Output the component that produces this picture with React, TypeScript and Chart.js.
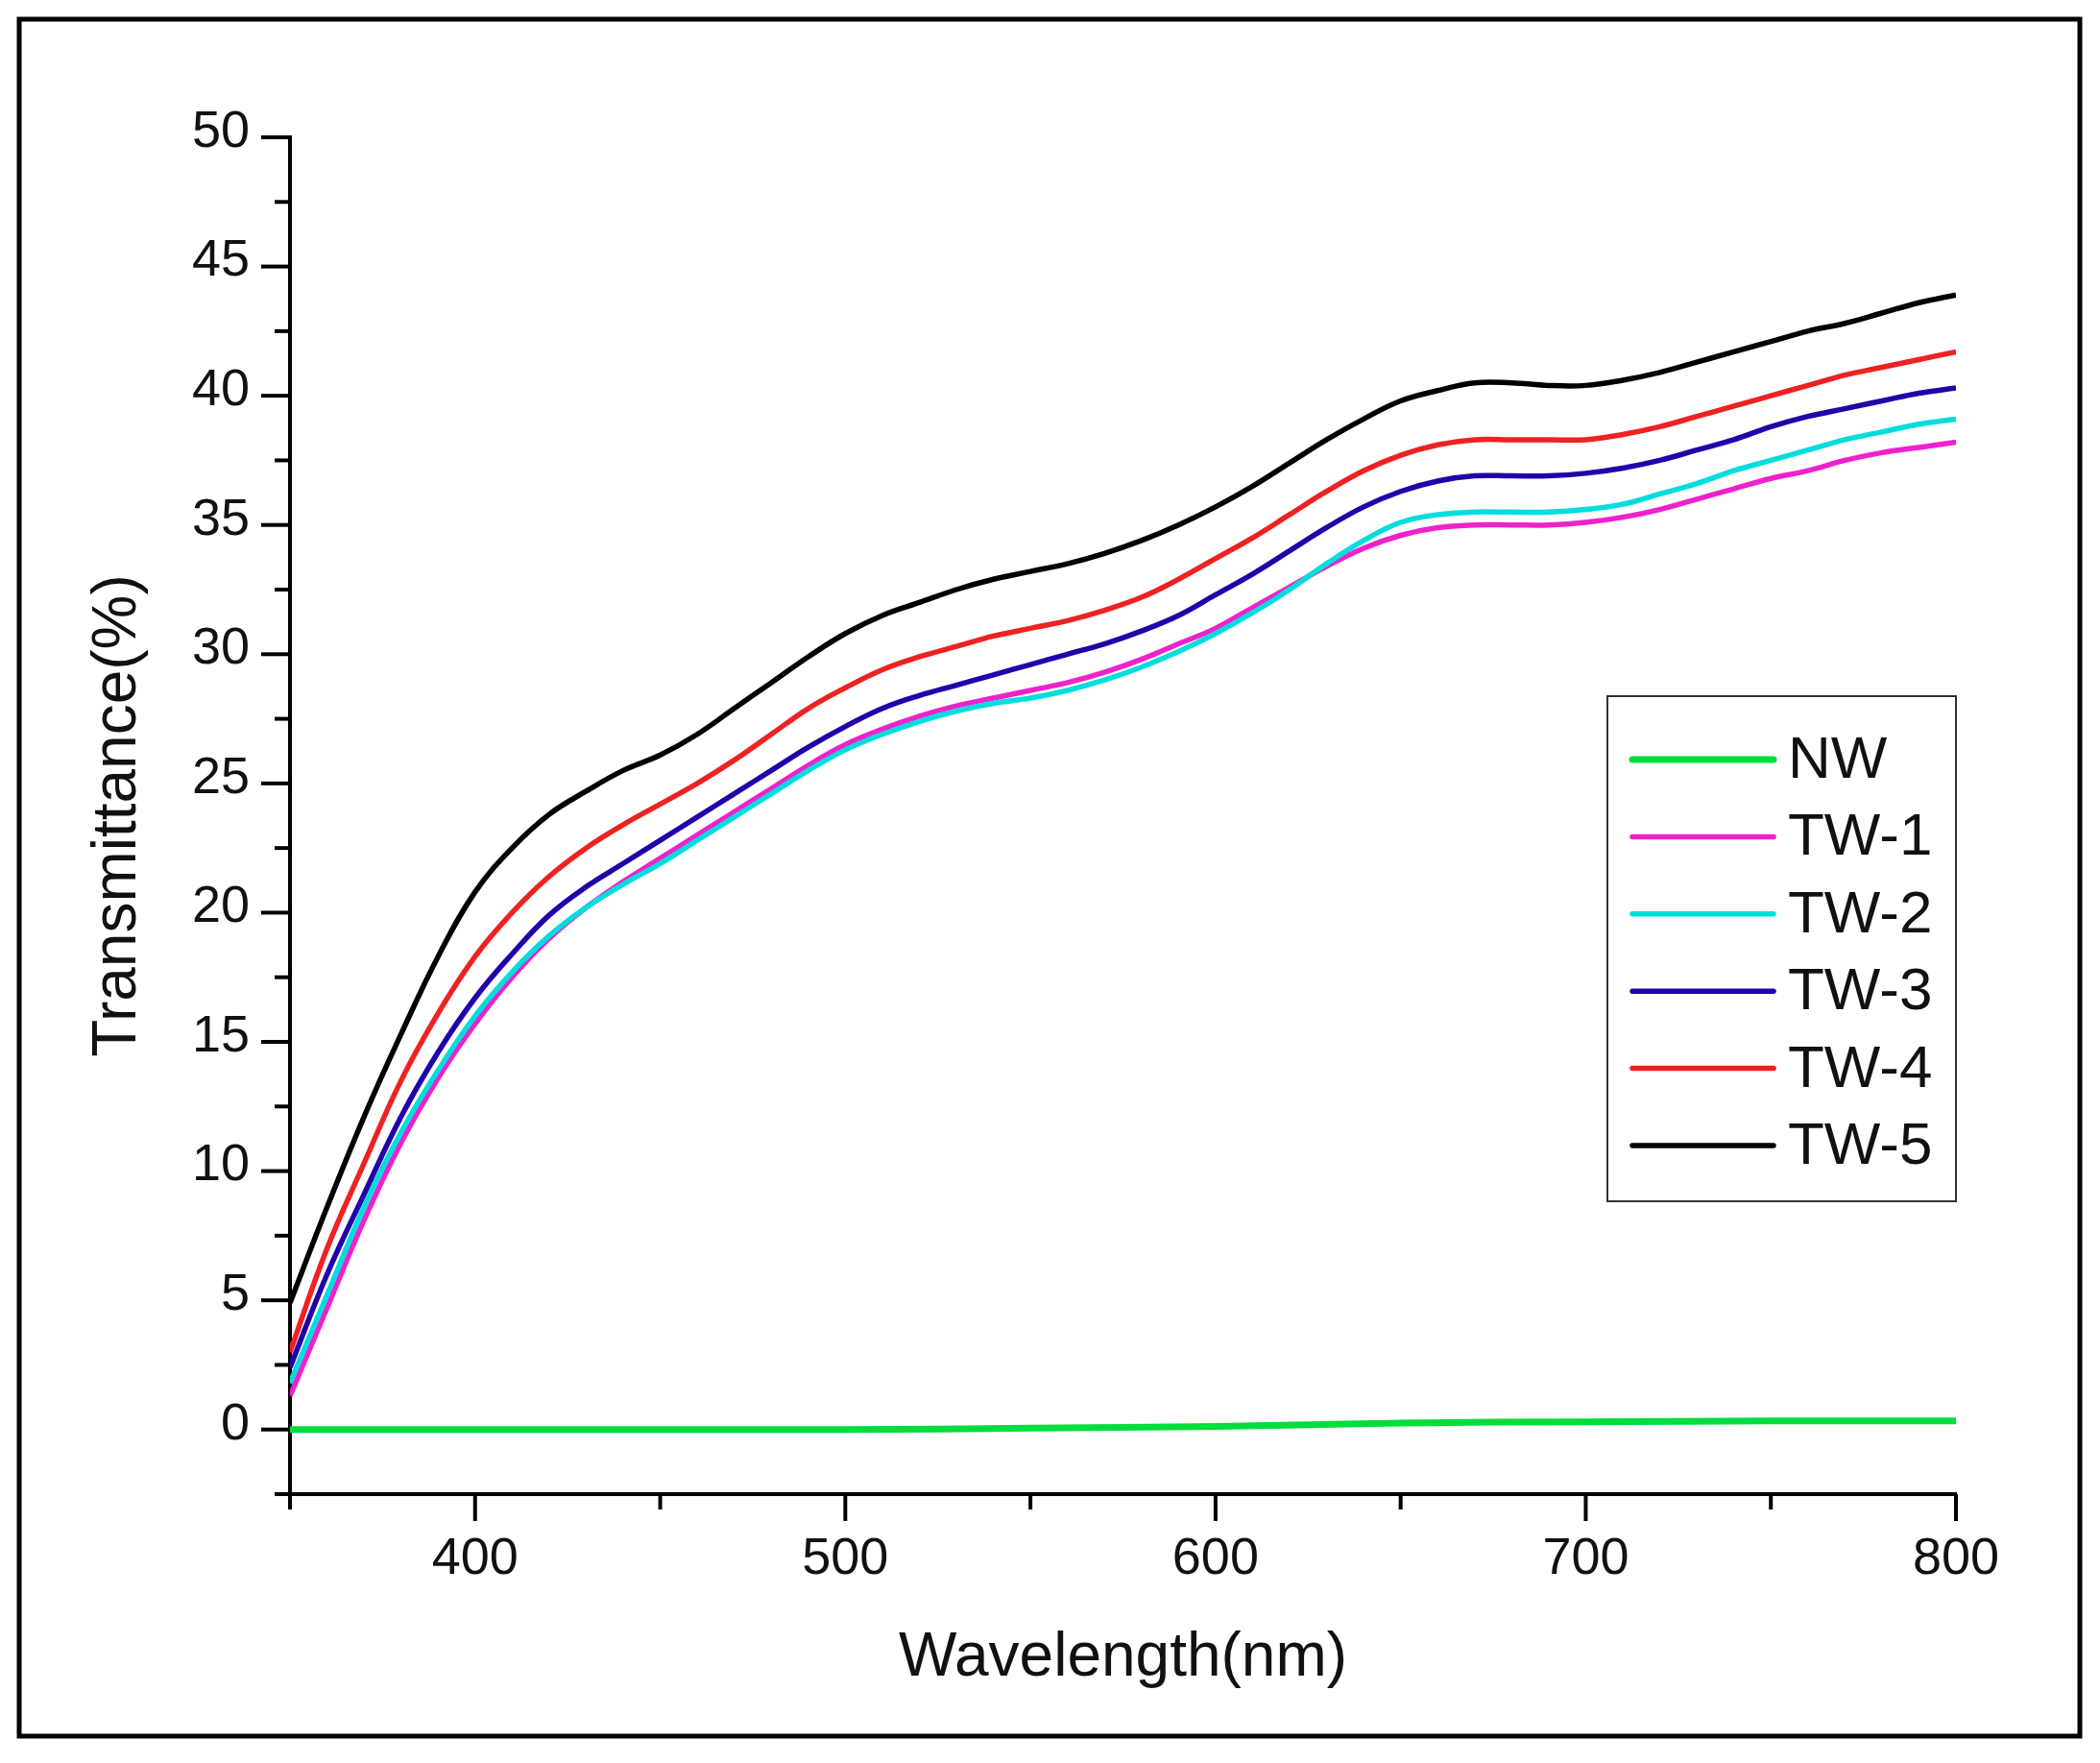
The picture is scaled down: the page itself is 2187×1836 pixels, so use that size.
import React, { useEffect, useRef } from 'react';
import { Chart, registerables } from 'chart.js';

Chart.register(...registerables);

// ---------- data ----------
const WAVELENGTHS = [
  350, 360, 370, 380, 390, 400, 410, 420, 430, 440, 450, 460, 470, 480, 490, 500,
  510, 520, 530, 540, 550, 560, 570, 580, 590, 600, 610, 620, 630, 640, 650, 660,
  670, 680, 690, 700, 710, 720, 730, 740, 750, 760, 770, 780, 790, 800,
];

const TW1 = [
  1.3, 4.7, 8.1, 11.1, 13.6, 15.7, 17.5, 19.0, 20.2, 21.2, 22.1, 23.0, 23.9, 24.8, 25.7, 26.5,
  27.1, 27.6, 28.0, 28.3, 28.6, 28.9, 29.3, 29.8, 30.4, 31.0, 31.8, 32.6, 33.4, 34.1, 34.6, 34.9,
  35.0, 35.0, 35.0, 35.1, 35.3, 35.6, 36.0, 36.4, 36.8, 37.1, 37.5, 37.8, 38.0, 38.2,
];
const TW2 = [
  1.8, 5.2, 8.6, 11.5, 13.9, 16.0, 17.7, 19.1, 20.2, 21.1, 21.9, 22.8, 23.7, 24.6, 25.5, 26.3,
  26.9, 27.4, 27.8, 28.1, 28.3, 28.6, 29.0, 29.5, 30.1, 30.8, 31.6, 32.5, 33.5, 34.4, 35.1, 35.4,
  35.5, 35.5, 35.5, 35.6, 35.8, 36.2, 36.6, 37.1, 37.5, 37.9, 38.3, 38.6, 38.9, 39.1,
];
const TW3 = [
  2.4, 6.0, 9.1, 12.1, 14.6, 16.7, 18.4, 19.9, 21.0, 21.9, 22.8, 23.7, 24.6, 25.5, 26.4, 27.2,
  27.9, 28.4, 28.8, 29.2, 29.6, 30.0, 30.4, 30.9, 31.5, 32.3, 33.1, 34.0, 34.9, 35.7, 36.3, 36.7,
  36.9, 36.9, 36.9, 37.0, 37.2, 37.5, 37.9, 38.3, 38.8, 39.2, 39.5, 39.8, 40.1, 40.3,
];
const TW4 = [
  3.0, 7.0, 10.3, 13.5, 16.1, 18.3, 20.0, 21.4, 22.5, 23.4, 24.2, 25.0, 25.9, 26.9, 27.9, 28.7,
  29.4, 29.9, 30.3, 30.7, 31.0, 31.3, 31.7, 32.2, 32.9, 33.7, 34.5, 35.4, 36.3, 37.1, 37.7, 38.1,
  38.3, 38.3, 38.3, 38.3, 38.5, 38.8, 39.2, 39.6, 40.0, 40.4, 40.8, 41.1, 41.4, 41.7,
];
const TW5 = [
  4.9, 8.6, 12.1, 15.3, 18.3, 20.8, 22.5, 23.8, 24.7, 25.5, 26.1, 26.9, 27.9, 28.9, 29.9, 30.8,
  31.5, 32.0, 32.5, 32.9, 33.2, 33.5, 33.9, 34.4, 35.0, 35.7, 36.5, 37.4, 38.3, 39.1, 39.8, 40.2,
  40.5, 40.5, 40.4, 40.4, 40.6, 40.9, 41.3, 41.7, 42.1, 42.5, 42.8, 43.2, 43.6, 43.9,
];

const NW_WAVELENGTHS = [350, 400, 450, 500, 550, 600, 650, 700, 750, 800];
const NW = [0.0, 0.0, 0.0, 0.0, 0.05, 0.12, 0.25, 0.3, 0.33, 0.33];

const SERIES_LABELS = ['NW', 'TW-1', 'TW-2', 'TW-3', 'TW-4', 'TW-5'];
const SERIES_COLORS = ['#00DD3C', '#EE22CC', '#00DDDD', '#2200AA', '#EE2222', '#000000'];

const X_MAJOR_TICKS = [400, 500, 600, 700, 800];
const X_MINOR_TICKS = [350, 450, 550, 650, 750];
const Y_MAJOR_TICKS = [0, 5, 10, 15, 20, 25, 30, 35, 40, 45, 50];
const Y_MINOR_TICKS = [-2.5, 2.5, 7.5, 12.5, 17.5, 22.5, 27.5, 32.5, 37.5, 42.5, 47.5];

const X_TITLE = 'Wavelength(nm)';
const Y_TITLE = 'Transmittance(%)';

// ---------- layout constants ----------
const W = 2187;
const H = 1836;
const FONT = "'Liberation Sans', Arial, sans-serif";

const framePlugin = {
  id: 'frame',
  beforeDraw(chart: any) {
    const { ctx } = chart;
    ctx.save();
    ctx.fillStyle = '#ffffff';
    ctx.fillRect(0, 0, chart.width, chart.height);
    ctx.strokeStyle = '#000000';
    ctx.lineWidth = 5;
    ctx.strokeRect(20, 20, 2146, 1788);
    ctx.restore();
  },
};

const tickPlugin = {
  id: 'minorMajorTicks',
  afterDraw(chart: any) {
    const { ctx } = chart;
    const xs = chart.scales.x;
    const ys = chart.scales.y;
    const x0 = chart.chartArea.left;
    const y0 = chart.chartArea.bottom;
    ctx.save();
    ctx.strokeStyle = '#000000';
    ctx.lineWidth = 4;
    ctx.lineCap = 'butt';
    const drawY = (vals: number[], len: number) => {
      vals.forEach((v) => {
        const py = ys.getPixelForValue(v);
        ctx.beginPath();
        ctx.moveTo(x0 - len, py);
        ctx.lineTo(x0, py);
        ctx.stroke();
      });
    };
    const drawX = (vals: number[], len: number) => {
      vals.forEach((v) => {
        const px = xs.getPixelForValue(v);
        ctx.beginPath();
        ctx.moveTo(px, y0);
        ctx.lineTo(px, y0 + len);
        ctx.stroke();
      });
    };
    drawY(Y_MAJOR_TICKS, 30);
    drawY(Y_MINOR_TICKS, 16);
    drawX(X_MAJOR_TICKS, 28);
    drawX(X_MINOR_TICKS, 16);
    ctx.restore();
  },
};

const legendPlugin = {
  id: 'boxLegend',
  afterDraw(chart: any) {
    const { ctx } = chart;
    const boxL = 1674;
    const boxT = 725;
    const boxW = 363;
    const boxH = 526;
    ctx.save();
    ctx.fillStyle = '#ffffff';
    ctx.fillRect(boxL, boxT, boxW, boxH);
    ctx.strokeStyle = '#333333';
    ctx.lineWidth = 2;
    ctx.strokeRect(boxL, boxT, boxW, boxH);
    ctx.font = `62px ${FONT}`;
    ctx.textBaseline = 'middle';
    ctx.textAlign = 'left';
    chart.data.datasets.forEach((ds: any, i: number) => {
      const cy = 791 + i * 80.4;
      ctx.strokeStyle = ds.borderColor;
      ctx.lineWidth = ds.borderWidth;
      ctx.lineCap = 'round';
      ctx.beginPath();
      ctx.moveTo(1700, cy);
      ctx.lineTo(1847, cy);
      ctx.stroke();
      ctx.fillStyle = '#111111';
      ctx.fillText(ds.label, 1862, cy + 2);
    });
    ctx.restore();
  },
};

export default function App() {
  const canvasRef = useRef<HTMLCanvasElement | null>(null);

  useEffect(() => {
    if (!canvasRef.current) return;
    const twSeries = [TW1, TW2, TW3, TW4, TW5];
    const datasets: any[] = [
      {
        label: SERIES_LABELS[0],
        data: NW_WAVELENGTHS.map((x, i) => ({ x, y: NW[i] })),
        borderColor: SERIES_COLORS[0],
        borderWidth: 7,
        order: 0,
      },
      ...twSeries.map((s, k) => ({
        label: SERIES_LABELS[k + 1],
        data: WAVELENGTHS.map((x, i) => ({ x, y: s[i] })),
        borderColor: SERIES_COLORS[k + 1],
        borderWidth: 5.5,
        order: k === 1 ? 1 : k + 2,
      })),
    ].map((d) => ({
      ...d,
      pointRadius: 0,
      fill: false,
      tension: 0.4,
    }));

    const chart = new Chart(canvasRef.current, {
      type: 'line',
      data: { datasets },
      options: {
        animation: false,
        responsive: false,
        devicePixelRatio: 1,
        layout: {
          autoPadding: false,
          padding: { left: 20, top: 143, right: W - 2037, bottom: 0 },
        },
        plugins: {
          legend: { display: false },
          tooltip: { enabled: false },
        },
        scales: {
          x: {
            type: 'linear',
            min: 350,
            max: 800,
            afterBuildTicks: (scale: any) => {
              scale.ticks = X_MAJOR_TICKS.map((value) => ({ value }));
            },
            afterFit: (scale: any) => {
              scale.height = 280;
            },
            grid: { display: false, drawTicks: false },
            border: { display: true, color: '#000000', width: 4 },
            ticks: {
              color: '#111111',
              font: { family: FONT, size: 54 },
              padding: 36,
              maxRotation: 0,
              autoSkip: false,
            },
            title: {
              display: true,
              text: X_TITLE,
              color: '#111111',
              font: { family: FONT, size: 64 },
              padding: { top: 0, bottom: 70 },
            },
          },
          y: {
            type: 'linear',
            min: -2.5,
            max: 50,
            afterBuildTicks: (scale: any) => {
              scale.ticks = Y_MAJOR_TICKS.map((value) => ({ value }));
            },
            afterFit: (scale: any) => {
              scale.width = 282;
            },
            grid: { display: false, drawTicks: false },
            border: { display: true, color: '#000000', width: 4 },
            ticks: {
              color: '#111111',
              font: { family: FONT, size: 54 },
              padding: 42,
              labelOffset: -5,
              autoSkip: false,
            },
            title: {
              display: true,
              text: Y_TITLE,
              color: '#111111',
              font: { family: FONT, size: 64 },
              padding: { top: 65, bottom: 0 },
            },
          },
        },
      } as any,
      plugins: [framePlugin, tickPlugin, legendPlugin],
    });
    return () => chart.destroy();
  }, []);

  return (
    <div style={{ position: 'absolute', left: 0, top: 0, width: W, height: H }}>
      <canvas ref={canvasRef} width={W} height={H} style={{ width: W, height: H, display: 'block' }} />
    </div>
  );
}
